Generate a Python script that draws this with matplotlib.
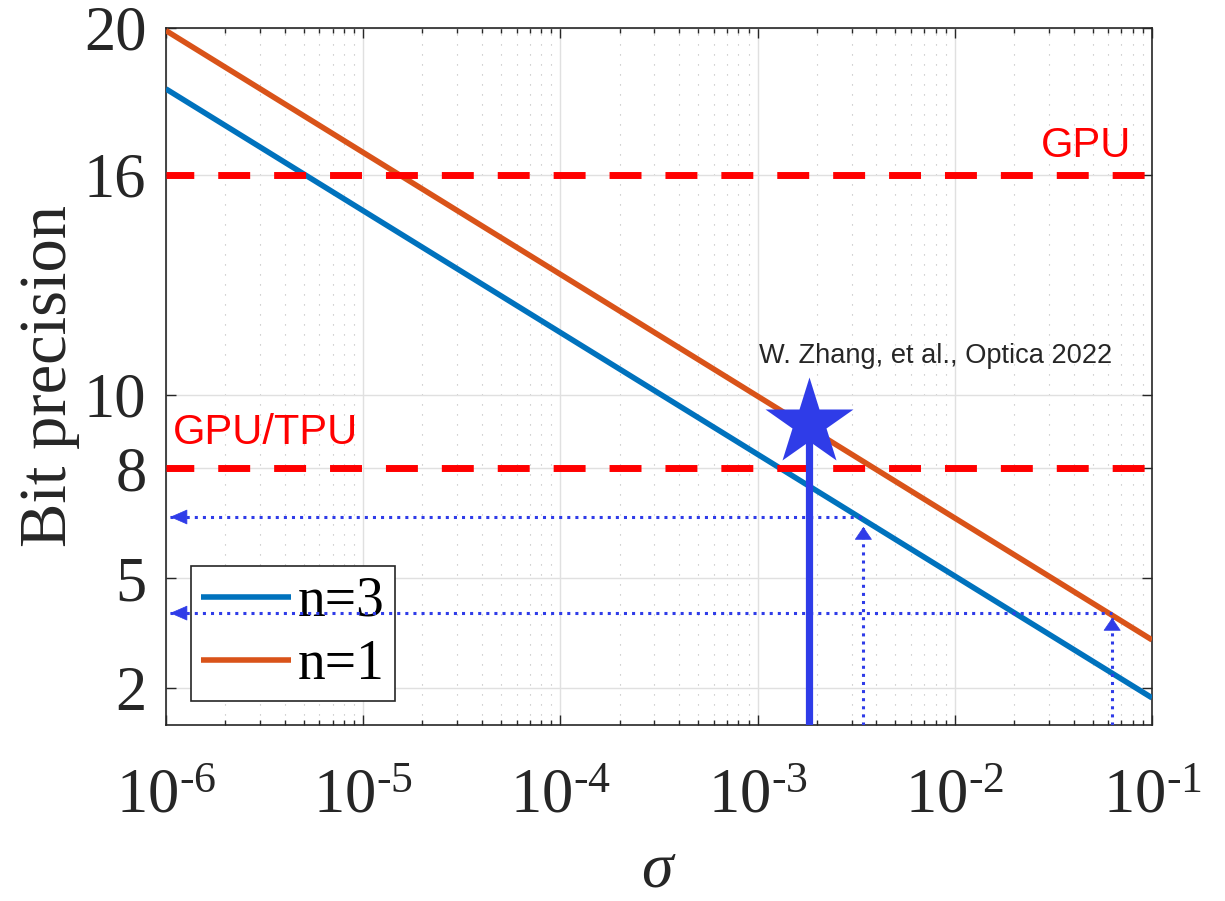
import matplotlib
matplotlib.use("Agg")
import matplotlib.pyplot as plt
from matplotlib.ticker import LogLocator, NullFormatter

# ---------------- data ----------------
sigma = [1e-6, 1e-1]
bits_n3 = [18.34, 1.74]
bits_n1 = [19.93, 3.32]
series_labels = ["n=3", "n=1"]

hw_levels = [16, 8]
hw_labels = ["GPU", "GPU/TPU"]

star_sigma = 1.83e-3
star_bits = 9.23
citation = "W. Zhang, et al., Optica 2022"

arrow_sigma = [3.44e-3, 0.0628]      # where vertical arrows start / horizontal arrows begin
arrow_bits = [6.67, 4.05]            # horizontal arrow levels
arrow_vtip = [6.40, 3.92]            # tips of vertical arrows
arrow_htip = 1.05e-6                 # tips of horizontal arrows

xticks = [1e-6, 1e-5, 1e-4, 1e-3, 1e-2, 1e-1]
xticklabels = [r"$10^{‐6}$", r"$10^{‐5}$", r"$10^{‐4}$", r"$10^{‐3}$", r"$10^{‐2}$", r"$10^{‐1}$"]
yticks = [2, 5, 8, 10, 16, 20]
ylim = (1, 20)

# ---------------- style ----------------
plt.rcParams["mathtext.fontset"] = "custom"
plt.rcParams["mathtext.rm"] = "Liberation Serif"
plt.rcParams["mathtext.it"] = "Liberation Serif:italic"
plt.rcParams["mathtext.bf"] = "Liberation Serif:bold"
plt.rcParams["font.family"] = ["Liberation Serif", "DejaVu Sans"]

C_BLUE = "#0072BD"
C_ORANGE = "#D95319"
C_RED = "#FF0000"
C_MARK = "#2F3CE8"
C_AX = "#262626"

fig = plt.figure(figsize=(12.25, 9.01), dpi=100)
ax = fig.add_axes([165.9 / 1225, 1 - 725 / 901, (1152 - 165.9) / 1225, 697 / 901])

ax.set_xscale("log")
ax.set_xlim(sigma[0], sigma[-1])
ax.set_ylim(*ylim)

# grids
ax.set_axisbelow(True)
ax.grid(True, which="major", color="#e0e0e0", lw=1.0, ls="-")
ax.xaxis.grid(True, which="minor", color="#b8b8b8", lw=0.8, ls=(0, (1, 8)))

# main lines
ax.plot(sigma, bits_n3, color=C_BLUE, lw=4, label=series_labels[0], zorder=3, solid_capstyle="butt")
ax.plot(sigma, bits_n1, color=C_ORANGE, lw=4, label=series_labels[1], zorder=3, solid_capstyle="butt")

# hardware levels
for lev in hw_levels:
    ax.axhline(lev, color=C_RED, lw=5, ls=(0.6, (4.6, 3.45)), zorder=4)

tr = ax.transAxes
ax.text(0.9327, 0.8149, hw_labels[0], transform=tr, color=C_RED, fontsize=30,
        family="Liberation Sans", ha="center", va="baseline", zorder=6)
ax.text(0.0072, 0.4032, hw_labels[1], transform=tr, color=C_RED, fontsize=30,
        family="Liberation Sans", ha="left", va="baseline", zorder=6)

# star & its stem
ax.plot([star_sigma, star_sigma], [ylim[0], star_bits], color=C_MARK, lw=5.2, zorder=5,
        solid_capstyle="butt")
ax.plot([star_sigma], [star_bits], marker="*", ms=66, color=C_MARK, mec="none", zorder=6)
ax.text(0.781, 0.5194, citation, transform=tr, color=C_AX, fontsize=19.6,
        family="Liberation Sans", ha="center", va="baseline", zorder=6)

# dotted arrows
for xs, yb, yv in zip(arrow_sigma, arrow_bits, arrow_vtip):
    ax.plot([arrow_htip, xs], [yb, yb], color=C_MARK, lw=2.2, ls=":", zorder=10)
    ax.plot([xs, xs], [ylim[0], yv], color=C_MARK, lw=2.2, ls=":", zorder=10)
    ax.annotate("", xy=(arrow_htip, yb), xytext=(11.5, 0), textcoords="offset points",
                arrowprops=dict(arrowstyle="-|>,head_length=1.15,head_width=0.5",
                                mutation_scale=10, color=C_MARK, lw=0.5,
                                shrinkA=0, shrinkB=0), zorder=11)
    ax.annotate("", xy=(xs, yv), xytext=(0, -8.5), textcoords="offset points",
                arrowprops=dict(arrowstyle="-|>,head_length=0.85,head_width=0.58",
                                mutation_scale=10, color=C_MARK, lw=0.5,
                                shrinkA=0, shrinkB=0), zorder=11)

# ticks
ax.set_xticks(xticks)
ax.set_xticklabels(xticklabels)
ax.xaxis.set_minor_locator(LogLocator(base=10, subs=range(2, 10), numticks=20))
ax.xaxis.set_minor_formatter(NullFormatter())
ax.set_yticks(yticks)
ax.tick_params(which="both", direction="in", top=True, right=True, color=C_AX,
               labelcolor=C_AX, width=1.0)
ax.tick_params(which="major", length=7.2)
ax.tick_params(which="minor", length=3.6)
ax.tick_params(axis="x", which="major", labelsize=45, pad=31)
ax.tick_params(axis="y", which="major", labelsize=45, pad=14)
for sp in ax.spines.values():
    sp.set_color(C_AX)
    sp.set_linewidth(1.2)

# axis labels
ax.set_xlabel(r"$\sigma$", fontsize=46, color=C_AX)
ax.xaxis.label.set_va("bottom")
ax.xaxis.set_label_coords(0.5, (725 - 900.5) / 697)
ax.set_ylabel("Bit precision", fontsize=48, color=C_AX)
ax.yaxis.label.set_va("center")
ax.yaxis.set_label_coords((50 - 165.9) / 986.1, 0.5)

# legend
leg = ax.legend(loc="upper left", bbox_to_anchor=(191 / 1225, 1 - 566 / 901),
                bbox_transform=fig.transFigure, fontsize=40, frameon=True,
                fancybox=False, edgecolor=C_AX, framealpha=1.0,
                handlelength=1.62, handletextpad=0.13, borderpad=0.18,
                labelspacing=0.2, borderaxespad=0)
leg.get_frame().set_linewidth(1.2)
leg.set_zorder(8)
for t in leg.get_texts():
    t.set_color("black")

fig.savefig("out.png", dpi=100, facecolor="white")
